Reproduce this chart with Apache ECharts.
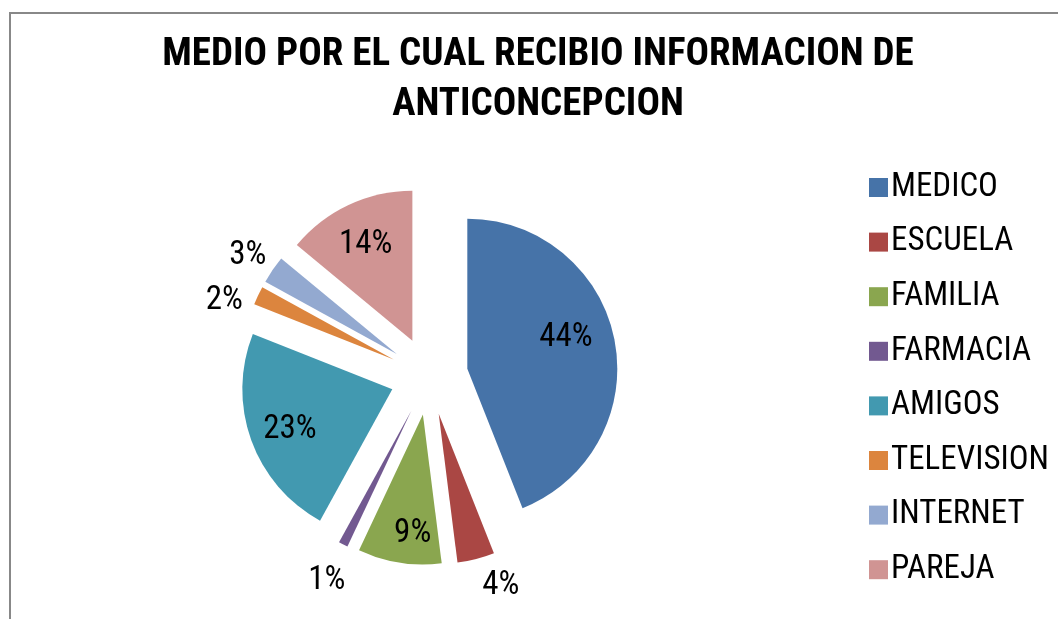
<!DOCTYPE html>
<html>
<head>
<meta charset="utf-8">
<script src="https://cdn.jsdelivr.net/npm/echarts@6/dist/echarts.min.js"></script>
<style>
  html, body { margin: 0; padding: 0; background: #fff; }
  #chart { width: 1058px; height: 619px; }
</style>
</head>
<body>
<div id="chart"></div>
<script>
// data (percent)
const categories = ['MEDICO', 'ESCUELA', 'FAMILIA', 'FARMACIA', 'AMIGOS', 'TELEVISION', 'INTERNET', 'PAREJA'];
const values = [44, 4, 9, 1, 23, 2, 3, 14];
const colors = ['#4673A8', '#AA4744', '#8AA64F', '#725990', '#4299B0', '#DC853E', '#93A9D0', '#D09493'];
const titleLines = ['MEDIO POR EL CUAL RECIBIO INFORMACION DE', 'ANTICONCEPCION'];

// no Arial Narrow here, Roboto squeezed through font-stretch is close enough
const FONT = 'Roboto, sans-serif';
const STRETCH = 'condensed';

// label placement per slice (Excel puts them in its own spots)
// pad = [top, right, bottom, left], rich text so vertical padding counts too
const labelTweaks = [
    {pos: 'inside', pad: [0, 0, 32, 44]},
    {pos: 'outside', len: 25, dist: 0, pad: [4, 0, 0, 0]},
    {pos: 'inside', pad: [84, 0, 0, 4]},
    {pos: 'outside', len: 39, dist: -20, pad: [4, 0, 0, 0]},
    {pos: 'inside', pad: [28, 58, 0, 0]},
    {pos: 'outside', len: 0, dist: 15, pad: [10, 0, 0, 0]},
    {pos: 'outside', len: 33, dist: -21, pad: [10, 0, 0, 0]},
    {pos: 'inside', pad: [0, 27, 50, 0]}
];

let pieData = categories.map(function (name, i) {
    let t = labelTweaks[i];
    let item = {
        name: name,
        value: values[i],
        selected: true,
        itemStyle: {color: colors[i]}
    };
    if (t.pos == 'inside') {
        item.label = {position: 'inside', padding: t.pad};
    } else {
        item.label = {position: 'outside', distanceToLabelLine: t.dist, padding: t.pad};
        item.labelLine = {show: false, length: t.len, length2: 0};
    }
    return item;
});

let myChart = echarts.init(document.getElementById('chart'), null, {renderer: 'canvas'});
let option = {
    animation: false,
    color: colors,
    title: {
        text: titleLines.join('\n'),
        left: 538,
        top: 30,
        padding: 0,
        textAlign: 'center',
        textStyle: {
            fontFamily: FONT,
            fontStyle: STRETCH,
            fontWeight: 'bold',
            fontSize: 39,
            lineHeight: 50,
            color: '#000'
        }
    },
    legend: {
        orient: 'vertical',
        left: 864,
        top: 166,
        itemWidth: 19,
        itemHeight: 19,
        itemGap: 21.6,
        icon: 'rect',
        selectedMode: false,
        data: categories,
        textStyle: {
            fontFamily: FONT,
            fontStyle: STRETCH,
            fontSize: 33,
            lineHeight: 33,
            color: '#000',
            padding: [0, 0, 0, -2]
        }
    },
    graphic: [{
        type: 'rect',
        shape: {x: 10, y: 13, width: 1100, height: 700},
        style: {fill: null, stroke: '#888', lineWidth: 2},
        silent: true
    }],
    series: [{
        type: 'pie',
        center: [429, 376],
        radius: 150,
        startAngle: 90,
        clockwise: true,
        selectedMode: 'multiple',
        selectedOffset: 39,
        avoidLabelOverlap: false,
        labelLayout: {hideOverlap: false},
        emphasis: {disabled: true},
        label: {
            show: true,
            formatter: '{v|{c}%}',
            rich: {
                v: {fontFamily: FONT, fontStyle: STRETCH, fontSize: 33, lineHeight: 33, color: '#000'}
            }
        },
        labelLine: {show: false},
        itemStyle: {borderWidth: 0},
        data: pieData
    }]
};
myChart.setOption(option);
</script>
</body>
</html>
